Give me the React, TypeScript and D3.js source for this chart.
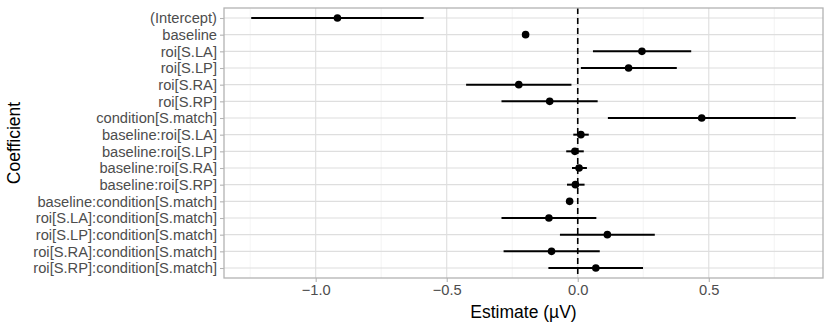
import React, { useRef, useEffect } from 'react';
import * as d3 from 'd3';

const terms = [
  '(Intercept)',
  'baseline',
  'roi[S.LA]',
  'roi[S.LP]',
  'roi[S.RA]',
  'roi[S.RP]',
  'condition[S.match]',
  'baseline:roi[S.LA]',
  'baseline:roi[S.LP]',
  'baseline:roi[S.RA]',
  'baseline:roi[S.RP]',
  'baseline:condition[S.match]',
  'roi[S.LA]:condition[S.match]',
  'roi[S.LP]:condition[S.match]',
  'roi[S.RA]:condition[S.match]',
  'roi[S.RP]:condition[S.match]',
];
const estimates = [-0.917, -0.199, 0.245, 0.194, -0.225, -0.107, 0.473, 0.012, -0.011, 0.005, -0.009, -0.031, -0.11, 0.113, -0.1, 0.069];
const lowers = [-1.246, -0.209, 0.058, 0.012, -0.426, -0.291, 0.115, -0.017, -0.044, -0.022, -0.041, -0.042, -0.291, -0.068, -0.283, -0.112];
const uppers = [-0.588, -0.189, 0.433, 0.378, -0.024, 0.076, 0.832, 0.042, 0.023, 0.035, 0.026, -0.021, 0.071, 0.294, 0.084, 0.249];
const majorTicks = [-1.0, -0.5, 0.0, 0.5];
const minorTicks = [-1.25, -0.75, -0.25, 0.25, 0.75];

export default function App() {
  const svgRef = useRef<SVGSVGElement>(null);

  useEffect(() => {
    const w = 830;
    const h = 333;
    const m = { top: 8, right: 7, bottom: 55, left: 224 };
    const font = '"Liberation Sans", Arial, Helvetica, sans-serif';
    const svg = d3.select(svgRef.current);
    svg.selectAll('*').remove();
    svg.attr('width', w).attr('height', h);

    // x scale with ggplot's 5% expansion
    const lo = d3.min(lowers)!;
    const hi = d3.max(uppers)!;
    const pad = (hi - lo) * 0.05;
    const x = d3.scaleLinear().domain([lo - pad, hi + pad]).range([m.left, w - m.right]);
    const y = d3.scalePoint<string>().domain(terms).range([m.top, h - m.bottom]).padding(0.6);

    const g = svg.append('g');

    // grid
    g.selectAll('.minor')
      .data(minorTicks)
      .join('line')
      .attr('x1', d => x(d)).attr('x2', d => x(d))
      .attr('y1', m.top).attr('y2', h - m.bottom)
      .attr('stroke', '#ececec').attr('stroke-width', 0.6);
    g.selectAll('.majorx')
      .data(majorTicks)
      .join('line')
      .attr('x1', d => x(d)).attr('x2', d => x(d))
      .attr('y1', m.top).attr('y2', h - m.bottom)
      .attr('stroke', '#dedede').attr('stroke-width', 1.1);
    g.selectAll('.majory')
      .data(terms)
      .join('line')
      .attr('x1', m.left).attr('x2', w - m.right)
      .attr('y1', d => y(d)!).attr('y2', d => y(d)!)
      .attr('stroke', '#dedede').attr('stroke-width', 1.1);

    // zero line
    g.append('line')
      .attr('x1', x(0)).attr('x2', x(0))
      .attr('y1', m.top).attr('y2', h - m.bottom)
      .attr('stroke', '#000').attr('stroke-width', 1.6)
      .attr('stroke-dasharray', '6,4');

    // error bars + points
    g.selectAll('.bar')
      .data(terms)
      .join('line')
      .attr('x1', (d, i) => x(lowers[i])).attr('x2', (d, i) => x(uppers[i]))
      .attr('y1', d => y(d)!).attr('y2', d => y(d)!)
      .attr('stroke', '#000').attr('stroke-width', 2);
    g.selectAll('.pt')
      .data(terms)
      .join('circle')
      .attr('cx', (d, i) => x(estimates[i]))
      .attr('cy', d => y(d)!)
      .attr('r', 3.8)
      .attr('fill', '#000');

    // panel border
    g.append('rect')
      .attr('x', m.left).attr('y', m.top)
      .attr('width', w - m.right - m.left).attr('height', h - m.bottom - m.top)
      .attr('fill', 'none').attr('stroke', '#b3b3b3').attr('stroke-width', 1.3);

    // axes
    const xAxis = d3.axisBottom(x).tickValues(majorTicks).tickSize(4).tickPadding(3)
      .tickFormat(d => d3.format('.1f')(d as number).replace('-', '\u2212'));
    const gx = svg.append('g')
      .attr('transform', `translate(0,${h - m.bottom})`)
      .call(xAxis);
    const yAxis = d3.axisLeft(y).tickSize(4).tickPadding(3);
    const gy = svg.append('g')
      .attr('transform', `translate(${m.left},0)`)
      .call(yAxis);
    [gx, gy].forEach(a => {
      a.select('.domain').remove();
      a.selectAll('line').attr('stroke', '#b3b3b3').attr('stroke-width', 1.1);
      a.selectAll('text').attr('fill', '#4d4d4d').style('font-family', font).style('font-size', '14.7px');
    });

    // titles
    svg.append('text')
      .attr('x', (m.left + w - m.right) / 2)
      .attr('y', 318)
      .attr('text-anchor', 'middle')
      .style('font-family', font).style('font-size', '17.5px')
      .text('Estimate (\u00b5V)');
    svg.append('text')
      .attr('transform', `translate(20,${(m.top + h - m.bottom) / 2}) rotate(-90)`)
      .attr('text-anchor', 'middle')
      .style('font-family', font).style('font-size', '17.5px')
      .text('Coefficient');
  }, []);

  return (
    <div className="App">
      <svg ref={svgRef} style={{ position: 'absolute', left: 0, top: 0 }}></svg>
    </div>
  );
}
